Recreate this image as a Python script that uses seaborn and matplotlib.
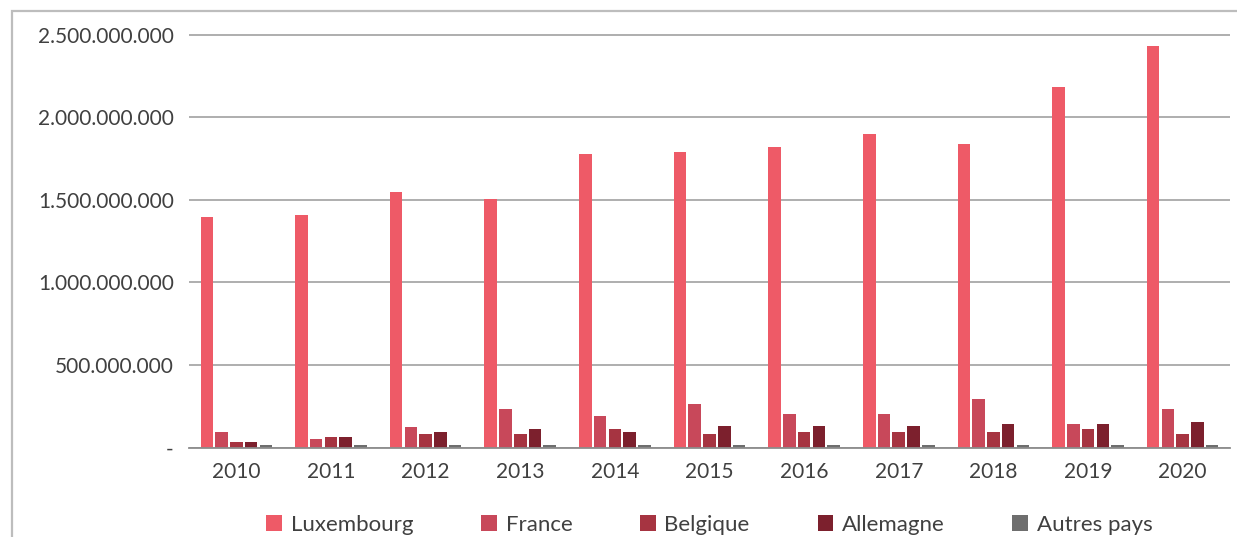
import matplotlib
matplotlib.use("Agg")
import matplotlib.pyplot as plt
from matplotlib.patches import Rectangle
from matplotlib.ticker import FixedLocator, FuncFormatter
import numpy as np
import pandas as pd
import seaborn as sns

# Annual amounts by country of residence
years = ["2010", "2011", "2012", "2013", "2014", "2015", "2016", "2017", "2018", "2019", "2020"]
countries = ["Luxembourg", "France", "Belgique", "Allemagne", "Autres pays"]
luxembourg = [1395e6, 1409e6, 1546e6, 1504e6, 1776e6, 1788e6, 1822e6, 1897e6, 1837e6, 2185e6, 2433e6]
france = [97e6, 51e6, 127e6, 234e6, 190e6, 265e6, 206e6, 206e6, 293e6, 145e6, 234e6]
belgique = [36e6, 67e6, 83e6, 83e6, 113e6, 83e6, 97e6, 97e6, 97e6, 113e6, 83e6]
allemagne = [36e6, 67e6, 97e6, 113e6, 97e6, 130e6, 130e6, 130e6, 145e6, 145e6, 157e6]
autres = [15e6, 15e6, 15e6, 15e6, 15e6, 15e6, 15e6, 15e6, 15e6, 15e6, 15e6]
y_ticks = [0, 500e6, 1000e6, 1500e6, 2000e6, 2500e6]

colors = ["#EE5A67", "#C8485A", "#A63441", "#7C202D", "#6E6E6E"]

series = [luxembourg, france, belgique, allemagne, autres]
df = pd.DataFrame({
    "year": np.tile(years, len(countries)),
    "country": np.repeat(countries, len(years)),
    "value": np.concatenate(series),
})

sns.set_style("white")
plt.rcParams["font.family"] = ["Lato", "DejaVu Sans"]

fig = plt.figure(figsize=(12.37, 5.37), dpi=100)
ax = fig.add_axes([189 / 1237, 89.3 / 537, (1230 - 189) / 1237, 418 / 537])

sns.barplot(data=df, x="year", y="value", hue="country", hue_order=countries,
            palette=colors, width=0.78, gap=0.15, saturation=1, ax=ax,
            linewidth=0, errorbar=None)

ax.set_xlim(-0.5, len(years) - 0.5)
ax.set_ylim(0, 2.53e9)
ax.yaxis.set_major_locator(FixedLocator(y_ticks))


def fmt(v, _pos):
    if v == 0:
        return "-"
    return f"{int(round(v)):,}".replace(",", ".")


ax.yaxis.set_major_formatter(FuncFormatter(fmt))
ax.set_xlabel("")
ax.set_ylabel("")

ax.yaxis.grid(True, color="#A8A8A8", linewidth=1.3)
ax.set_axisbelow(True)
for side in ["left", "right", "top"]:
    ax.spines[side].set_visible(False)
ax.spines["bottom"].set_color("#8C8C8C")
ax.spines["bottom"].set_linewidth(1.3)

ax.tick_params(axis="y", length=0, pad=11, labelsize=15, labelcolor="#404040")
ax.tick_params(axis="x", length=0, pad=10, labelsize=15, labelcolor="#404040")

sns.move_legend(ax, "center", bbox_to_anchor=(0.5, -0.185), ncol=5, frameon=False,
                title=None, fontsize=16, handlelength=0.7, handleheight=0.7,
                handletextpad=0.4, columnspacing=3.05, labelcolor="#404040")

# Outer chart frame
fig.patches.append(Rectangle((12 / 1237, -0.1), 1.2, (537 - 11) / 537 + 0.1,
                             transform=fig.transFigure, fill=False,
                             edgecolor="#BDBDBD", linewidth=1.6))

fig.savefig("out.png", dpi=100)
